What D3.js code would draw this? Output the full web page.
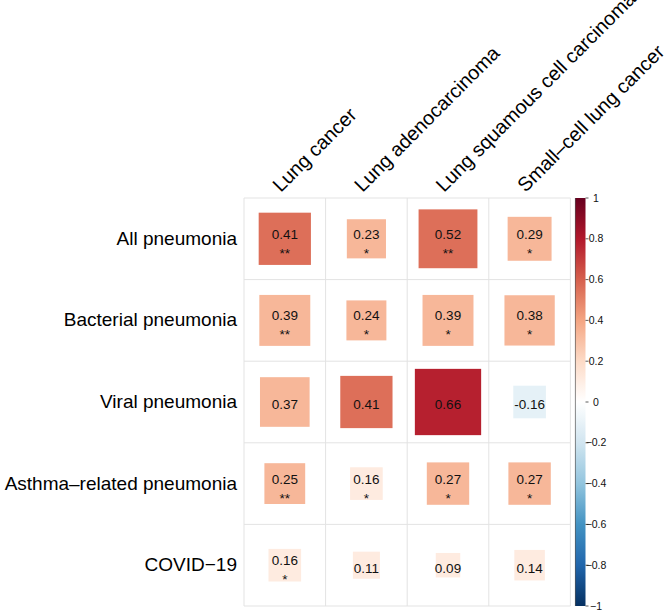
<!DOCTYPE html>
<html><head><meta charset="utf-8">
<script src="https://cdn.jsdelivr.net/npm/d3@7"></script>
<style>body{margin:0;background:#fff}svg{display:block;font-family:"Liberation Sans",Arial,Helvetica,sans-serif}</style>
</head><body><svg id="c" width="669" height="611"></svg>
<script>
const columns = ["Lung cancer","Lung adenocarcinoma","Lung squamous cell carcinoma","Small\u2013cell lung cancer"];
const rows = ["All pneumonia","Bacterial pneumonia","Viral pneumonia","Asthma\u2013related pneumonia","COVID\u221219"];
const values = [
  [0.41,0.23,0.52,0.29],
  [0.39,0.24,0.39,0.38],
  [0.37,0.41,0.66,-0.16],
  [0.25,0.16,0.27,0.27],
  [0.16,0.11,0.09,0.14]
];
const stars = [
  ["**","*","**","*"],
  ["**","*","*","*"],
  ["","","",""],
  ["**","*","*","*"],
  ["*","","",""]
];
const legendTicks = [1,0.8,0.6,0.4,0.2,0,-0.2,-0.4,-0.6,-0.8,-1];
const anchors = ["#053061","#2166AC","#4393C3","#92C5DE","#D1E5F0","#FFFFFF","#FDDBC7","#F4A582","#D6604D","#B2182B","#67001F"];

const svg = d3.select("#c");
const gLeft = 244, gTop = 198, cell = 81.6;
const x = d3.scaleBand().domain(columns).range([gLeft, gLeft + cell*columns.length]);
const y = d3.scaleBand().domain(rows).range([gTop, gTop + cell*rows.length]);
const ramp = d3.piecewise(d3.interpolateRgb, anchors);
const nBins = 10;
const binColor = v => { let k = Math.floor((v + 1) / 2 * nBins); k = Math.max(0, Math.min(nBins-1, k)); return ramp(k/(nBins-1)); };
const sizeScale = d3.scaleSqrt().domain([0,1]).range([0, cell]);

// grid
const g = svg.append("g");
g.selectAll("line.v").data(d3.range(columns.length+1)).join("line")
  .attr("x1", i => gLeft + i*cell).attr("x2", i => gLeft + i*cell)
  .attr("y1", gTop).attr("y2", gTop + cell*rows.length)
  .attr("stroke", "#e3e3e3").attr("stroke-width", 1);
g.selectAll("line.h").data(d3.range(rows.length+1)).join("line")
  .attr("y1", i => gTop + i*cell).attr("y2", i => gTop + i*cell)
  .attr("x1", gLeft).attr("x2", gLeft + cell*columns.length)
  .attr("stroke", "#e3e3e3").attr("stroke-width", 1);

const cells = [];
rows.forEach((r,i) => columns.forEach((c,j) => cells.push({r, c, v: values[i][j], s: stars[i][j]})));

const cg = svg.append("g").selectAll("g").data(cells).join("g")
  .attr("transform", d => `translate(${x(d.c)+cell/2},${y(d.r)+cell/2})`);
cg.append("rect")
  .attr("x", d => -sizeScale(Math.abs(d.v))/2).attr("y", d => -sizeScale(Math.abs(d.v))/2)
  .attr("width", d => sizeScale(Math.abs(d.v))).attr("height", d => sizeScale(Math.abs(d.v)))
  .attr("fill", d => binColor(d.v));
cg.append("text")
  .attr("text-anchor", "middle")
  .attr("y", d => d.s ? 0 : 7.3)
  .attr("font-size", 13.5).attr("fill", "#111")
  .text(d => d3.format(".2f")(d.v).replace("\u2212", "-"));
cg.append("text")
  .attr("text-anchor", "middle")
  .attr("y", 19)
  .attr("font-size", 13.5).attr("fill", "#111")
  .text(d => d.s);

// row labels
svg.append("g").selectAll("text").data(rows).join("text")
  .attr("x", 237).attr("y", d => y(d) + cell/2 + 6)
  .attr("text-anchor", "end").attr("font-size", 19).attr("fill", "#000")
  .text(d => d);

// column labels
svg.append("g").selectAll("text").data(columns).join("text")
  .attr("transform", d => `translate(${x(d)+cell/2-4},193) rotate(-45)`)
  .attr("text-anchor", "start").attr("font-size", 19.8).attr("fill", "#000")
  .text(d => d);

// color legend
const barX = 575, barW = 10.5;
const ly = d3.scaleLinear().domain([1,-1]).range([gTop, gTop + cell*rows.length]);
const defs = svg.append("defs");
const grad = defs.append("linearGradient").attr("id","lg").attr("x1",0).attr("x2",0).attr("y1",1).attr("y2",0);
d3.range(0, 1.0001, 0.02).forEach(t => grad.append("stop").attr("offset", t).attr("stop-color", ramp(t)));
svg.append("rect").attr("x", barX).attr("y", ly(1)).attr("width", barW).attr("height", ly(-1)-ly(1)).attr("fill","url(#lg)");
svg.append("line").attr("x1", barX+0.4).attr("x2", barX+0.4).attr("y1", ly(1)).attr("y2", ly(-1)).attr("stroke","#555").attr("stroke-width",0.7);
const lt = svg.append("g").selectAll("g").data(legendTicks).join("g").attr("transform", d => `translate(0,${ly(d)})`);
lt.append("line").attr("x1", barX+barW).attr("x2", barX+barW+3).attr("stroke","#333").attr("stroke-width",0.8);
lt.append("text").attr("x", 596).attr("dy","0.35em").attr("text-anchor","middle").attr("font-size",10.5).attr("fill","#111")
  .text(d => d === 0 ? "0" : (d < 0 ? "\u2212" + d3.format("")(Math.abs(d)) : d3.format("")(d)));
</script></body></html>
